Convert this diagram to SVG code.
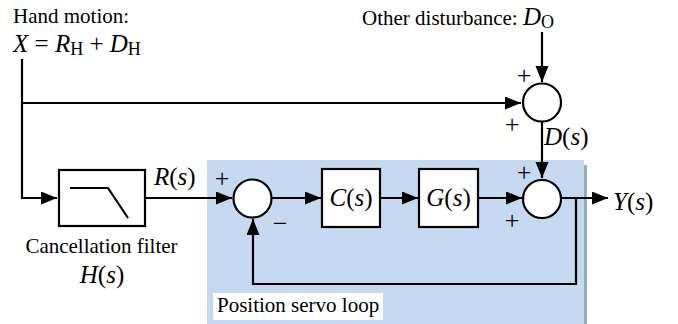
<svg xmlns="http://www.w3.org/2000/svg" width="678" height="324" viewBox="0 0 678 324" font-family="'Liberation Serif', 'DejaVu Serif', serif">
<style>
text{font-family:'Liberation Serif','DejaVu Serif',serif;fill:#000}
.t{font-size:21px}
.m{font-size:25px;font-style:italic}
.up{font-style:normal}
.sg{font-size:26px;text-anchor:middle}
.ln{fill:none;stroke:#000;stroke-width:2.2}
.blk{fill:#fff;stroke:#000;stroke-width:2.2}
</style>
<defs>
<marker id="ah" markerUnits="userSpaceOnUse" markerWidth="17" markerHeight="14" refX="16" refY="6.5" orient="auto">
<path d="M0,0 L16,6.5 L0,13 z" fill="#000"/>
</marker>
</defs>
<g id="servo-region">
<rect x="584" y="165" width="3" height="159" fill="#93aeb5"/>
<rect x="207" y="160" width="377" height="164" fill="#c5d9f1"/>
<rect x="213" y="293" width="170" height="27" fill="#fff"/>
<text class="t" x="217" y="312">Position servo loop</text>
</g>
<g id="connectors">
<path class="ln" d="M22,59 V198 H57" marker-end="url(#ah)"/>
<path class="ln" d="M22,103 H521" marker-end="url(#ah)"/>
<path class="ln" d="M542,32 V82" marker-end="url(#ah)"/>
<path class="ln" d="M542,122 V178" marker-end="url(#ah)"/>
<path class="ln" d="M145,198 H232" marker-end="url(#ah)"/>
<path class="ln" d="M272,198 H321" marker-end="url(#ah)"/>
<path class="ln" d="M380,198 H418" marker-end="url(#ah)"/>
<path class="ln" d="M478,198 H522" marker-end="url(#ah)"/>
<path class="ln" d="M561,198 H608" marker-end="url(#ah)"/>
<path class="ln" d="M576,198 V284 H253 V219" marker-end="url(#ah)"/>
</g>
<g id="input-label">
<text class="t" x="13" y="23">Hand motion:</text>
<text class="m" x="13" y="52" font-size="26">X<tspan class="up"> = </tspan>R<tspan class="up" font-size="18" dy="3">H</tspan><tspan class="up" dy="-3"> + </tspan>D<tspan class="up" font-size="18" dy="3">H</tspan></text>
</g>
<g id="disturbance-label">
<text class="t" x="362" y="25">Other disturbance: <tspan class="m">D</tspan><tspan font-size="18" dy="3">O</tspan></text>
</g>
<g id="filter">
<rect class="blk" x="59" y="170" width="86" height="56"/>
<path class="ln" d="M70,188 H108 L128,218"/>
<text class="t" x="101.5" y="253" text-anchor="middle">Cancellation filter</text>
<text class="m" x="102" y="283" text-anchor="middle">H<tspan class="up">(</tspan>s<tspan class="up">)</tspan></text>
<text class="m" x="154" y="185">R<tspan class="up">(</tspan>s<tspan class="up">)</tspan></text>
</g>
<g id="sum-top">
<circle class="blk" cx="542" cy="102.5" r="19"/>
<text class="sg" x="524" y="84">+</text>
<text class="sg" x="512" y="133">+</text>
<text class="m" x="544" y="145">D<tspan class="up">(</tspan>s<tspan class="up">)</tspan></text>
</g>
<g id="sum-servo">
<circle class="blk" cx="252.5" cy="198.5" r="19"/>
<text class="sg" x="222" y="187">+</text>
<text class="sg" x="280" y="232">−</text>
</g>
<g id="controller">
<rect class="blk" x="322" y="169" width="58" height="58"/>
<text class="m" x="351" y="206" text-anchor="middle">C<tspan class="up">(</tspan>s<tspan class="up">)</tspan></text>
</g>
<g id="plant">
<rect class="blk" x="419" y="169" width="59" height="58"/>
<text class="m" x="448.5" y="206" text-anchor="middle">G<tspan class="up">(</tspan>s<tspan class="up">)</tspan></text>
</g>
<g id="sum-out">
<circle class="blk" cx="542" cy="199" r="19"/>
<text class="sg" x="524" y="181">+</text>
<text class="sg" x="512" y="229">+</text>
</g>
<g id="output">
<text class="m" x="613" y="210">Y<tspan class="up">(</tspan>s<tspan class="up">)</tspan></text>
</g>
</svg>
